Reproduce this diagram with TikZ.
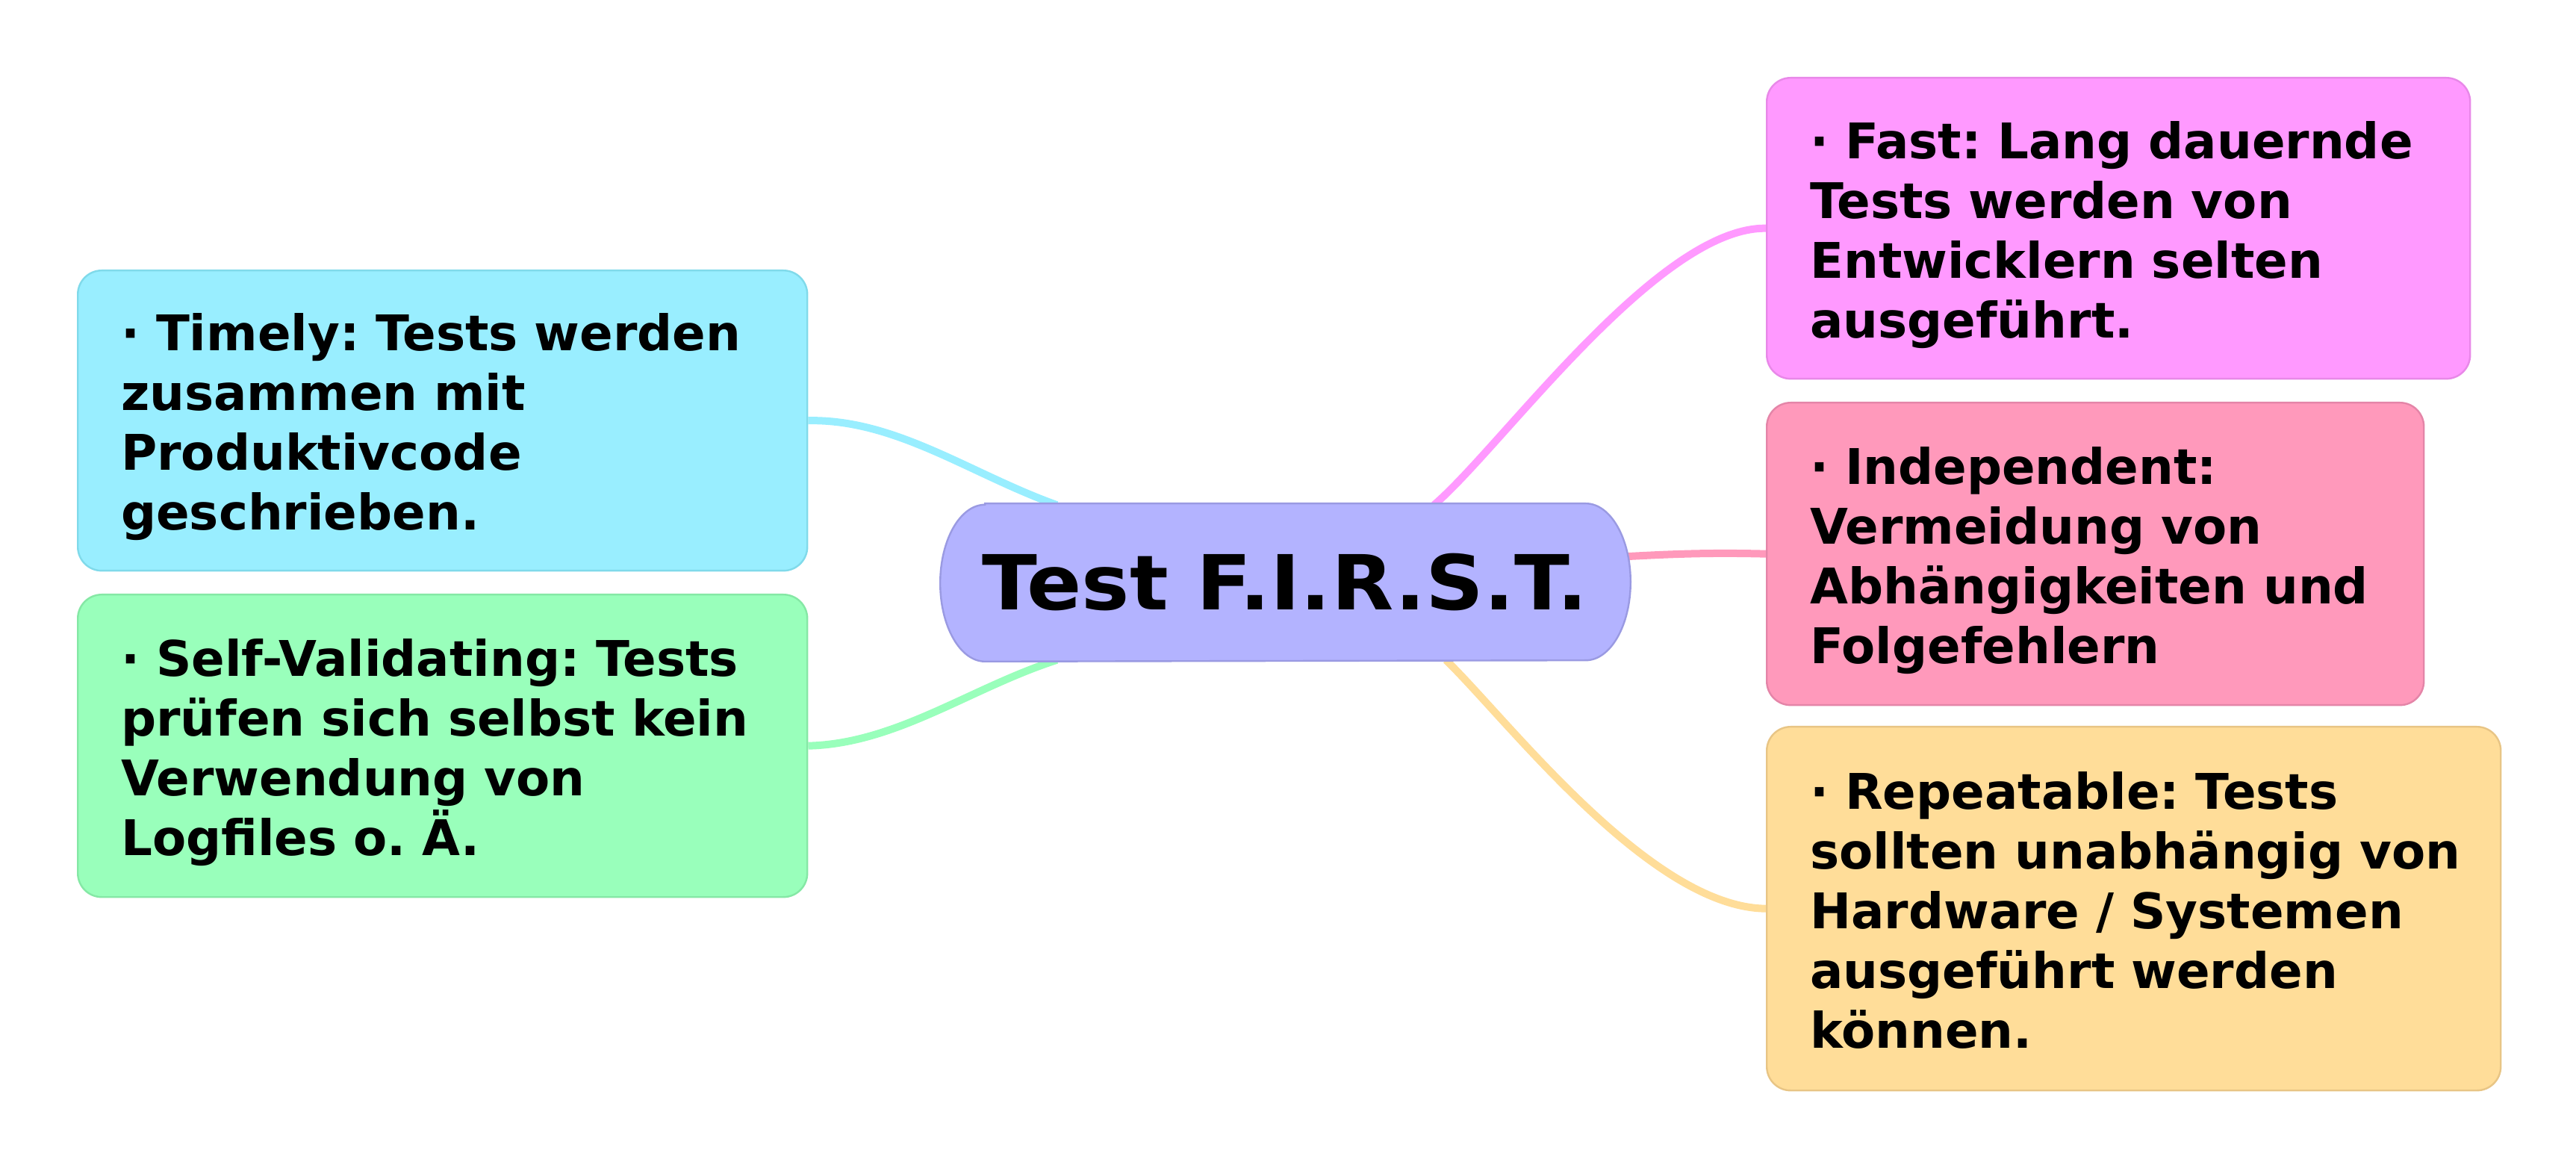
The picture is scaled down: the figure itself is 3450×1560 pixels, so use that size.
\documentclass[tikz,border=0pt]{standalone}
\usepackage{fontspec}
\setmainfont{DejaVu Sans}
\newfontfamily\cenfam{DejaVu Sans}[FakeStretch=1.065]
\usetikzlibrary{calc,backgrounds}
\definecolor{cenF}{HTML}{B3B3FF}\definecolor{cenD}{HTML}{9A9AE2}
\definecolor{cyaF}{HTML}{99EEFF}\definecolor{cyaD}{HTML}{80DAEA}
\definecolor{grnF}{HTML}{99FFBB}\definecolor{grnD}{HTML}{85E8A5}
\definecolor{magF}{HTML}{FF99FF}\definecolor{magD}{HTML}{E888E8}
\definecolor{rosF}{HTML}{FF99BB}\definecolor{rosD}{HTML}{E485A8}
\definecolor{ylwF}{HTML}{FFDD99}\definecolor{ylwD}{HTML}{E8C585}
\newcommand\boxfont{\frenchspacing\bfseries\fontsize{16.45pt}{20pt}\selectfont
  \lineskiplimit=-20pt\lineskip=0pt}
\newcommand\cenfont{\cenfam\bfseries\fontsize{25.4pt}{30pt}\selectfont}
\newcommand\tline[1]{\mbox{\rule[-3.25pt]{0pt}{20pt}#1}}
\tikzset{
  mmbox/.style={draw, line width=0.6pt, rounded corners=8pt, inner xsep=14.5pt,
    inner ysep=0pt, anchor=north west, align=left, font=\boxfont},
  cline/.style={line width=2.5pt},
}
\begin{document}
\begin{tikzpicture}[x=0.25pt,y=-0.25pt]
\useasboundingbox (0,0) rectangle (3450,1560);
% central topic
\node[inner sep=0pt, minimum width=230.75pt, minimum height=52.5pt, font=\cenfont]
  (c) at (1721.5,780) {Test F.I.R.S.T.};
% left branches
\node[mmbox, fill=cyaF, draw=cyaD, minimum width=244.25pt, minimum height=100.5pt,
  text width=215.25pt] (timely) at (103,361)
  {\tline{· Timely: Tests werden}\\\tline{zusammen mit}\\\tline{Produktivcode}\\\tline{geschrieben.}};
\node[mmbox, fill=grnF, draw=grnD, minimum width=244.25pt, minimum height=101.25pt,
  text width=215.25pt] (selfv) at (103,795)
  {\tline{· Self-Validating: Tests}\\\tline{prüfen sich selbst kein}\\\tline{Verwendung von}\\\tline{Logfiles o. Ä.}};
% right branches
\node[mmbox, fill=magF, draw=magD, minimum width=235.5pt, minimum height=100.75pt,
  text width=206.5pt] (fast) at (2365,103)
  {\tline{· Fast: Lang dauernde}\\\tline{Tests werden von}\\\tline{Entwicklern selten}\\\tline{ausgeführt.}};
\node[mmbox, fill=rosF, draw=rosD, minimum width=220pt, minimum height=101.25pt,
  text width=191pt] (indep) at (2365,538)
  {\tline{· Independent:}\\\tline{Vermeidung von}\\\tline{Abhängigkeiten und}\\\tline{Folgefehlern}};
\node[mmbox, fill=ylwF, draw=ylwD, minimum width=245.75pt, minimum height=121.75pt,
  text width=216.75pt] (repeat) at (2365,972)
  {\tline{· Repeatable: Tests}\\\tline{sollten unabhängig von}\\\tline{Hardware / Systemen}\\\tline{ausgeführt werden}\\\tline{können.}};
\begin{scope}[on background layer]
  \draw[cline, cyaF] (timely.east) .. controls (1200,561) and (1300,635) .. ($(c.north)+(-306,2)$);
  \draw[cline, grnF] (selfv.east) .. controls (1200,996) and (1300,921) .. ($(c.south)+(-306,-2)$);
  \draw[cline, magF] ($(c.north)+(199,2)$) .. controls (2010,600) and (2220,304) .. (fast.west);
  \draw[cline, rosF] ($(c.east)+(-20,-34)$) .. controls (2250,741) and (2300,740) .. (indep.west);
  \draw[cline, ylwF] ($(c.south)+(215,-2)$) .. controls (2020,965) and (2210,1215) .. (repeat.west);
  \draw[fill=cenF, draw=cenD, line width=0.6pt]
    ($(c.north west)+(60,0)$) -- ($(c.north east)+(-60,0)$)
    arc[start angle=90, end angle=-90, x radius=15pt, y radius=26.25pt]
    -- ($(c.south west)+(60,0)$)
    arc[start angle=270, end angle=90, x radius=15pt, y radius=26.25pt] -- cycle;
\end{scope}
\end{tikzpicture}
\end{document}
